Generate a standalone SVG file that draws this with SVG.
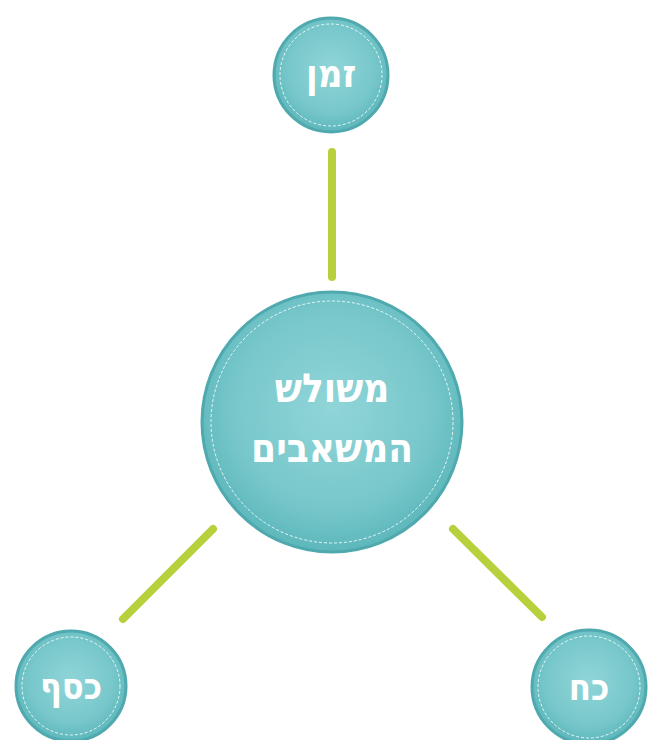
<svg xmlns="http://www.w3.org/2000/svg" width="653" height="740" viewBox="0 0 653 740">
<defs>
<radialGradient id="g" cx="50%" cy="45%" r="55%">
<stop offset="0" stop-color="#90d5d8"/>
<stop offset="0.7" stop-color="#77c7ca"/>
<stop offset="1" stop-color="#5cb7bb"/>
</radialGradient>
</defs>
<style>
.c{fill:url(#g);stroke:#4fa9ae;stroke-width:3}
.d{fill:none;stroke:#ffffff;stroke-width:1;stroke-dasharray:3 2;opacity:0.85}
.t{fill:#ffffff;font-family:"DejaVu Sans Condensed","DejaVu Sans","Liberation Sans",sans-serif;font-stretch:condensed;font-weight:bold;text-anchor:middle;direction:rtl}
.l{stroke:#b6d13c;stroke-width:8;stroke-linecap:round;fill:none}
</style>
<rect width="653" height="740" fill="#ffffff"/>
<g id="connectors">
<line class="l" x1="332" y1="152" x2="332" y2="277"/>
<line class="l" x1="213" y1="529" x2="123" y2="619"/>
<line class="l" x1="453" y1="529" x2="542" y2="617"/>
</g>
<g id="center">
<circle class="c" cx="332" cy="422" r="130"/>
<circle class="d" cx="332" cy="422" r="121"/>
<text class="t" x="332" y="402" font-size="40">משולש</text>
<text class="t" x="332" y="462" font-size="40">המשאבים</text>
</g>
<g id="time">
<circle class="c" cx="331" cy="75" r="57"/>
<circle class="d" cx="331" cy="75" r="51"/>
<text class="t" x="331" y="87" font-size="38">זמן</text>
</g>
<g id="money">
<circle class="c" cx="71" cy="686" r="55"/>
<circle class="d" cx="71" cy="686" r="49"/>
<text class="t" x="71" y="699" font-size="36">כסף</text>
</g>
<g id="force">
<circle class="c" cx="589" cy="687" r="57"/>
<circle class="d" cx="589" cy="687" r="51"/>
<text class="t" x="589" y="700" font-size="36">כח</text>
</g>
</svg>
